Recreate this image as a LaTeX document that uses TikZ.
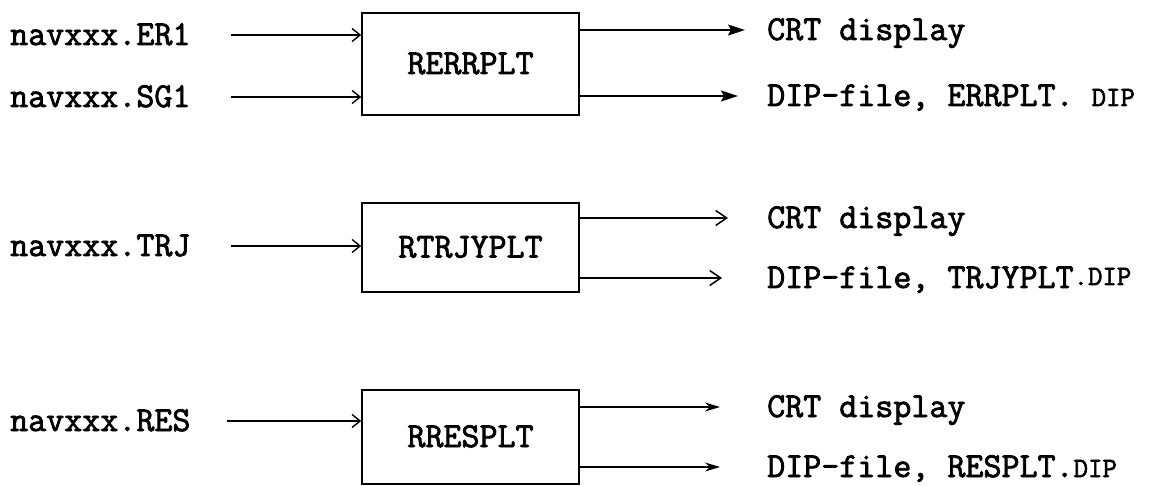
\documentclass[tikz,border=0pt]{standalone}
\usepackage{fontspec}
\setmonofont{Latin Modern Mono}[FakeBold=2.2]
\usetikzlibrary{arrows.meta}
\newcommand\smdip[1]{{\fontsize{28}{28}\selectfont #1}}
\begin{document}
\begin{tikzpicture}[x=1pt,y=-1pt,
  txt/.style={anchor=west,inner sep=0pt,font=\ttfamily\fontsize{35}{35}\selectfont,
    text height=20pt,text depth=0pt},
  prog/.style={draw,line width=1.6pt,inner sep=0pt,minimum width=217pt,
    font=\ttfamily\fontsize{35}{35}\selectfont,text height=20pt,text depth=0pt},
  wire/.style={line width=1.4pt},
  inarr/.style={wire,-{Straight Barb[length=8pt,width=13pt,line width=1.4pt]}},
  solidarr/.style={wire,-{Stealth[length=17pt,width=11pt,inset=3pt]}},
  openarr/.style={wire,-{Straight Barb[length=11pt,width=15pt,line width=1.5pt]}},
  thinarr/.style={wire,-{Stealth[length=15pt,width=9pt,inset=5pt]}}
]
\useasboundingbox (0,0) rectangle (1154,486);

% --- RERRPLT ---
\node[txt] (er1) at (10,35) {navxxx.ER1};
\node[txt] (sg1) at (10,97) {navxxx.SG1};
\node[prog,minimum height=102pt] (b1) at (470.5,64) {RERRPLT};
\node[txt] (crt1) at (767,30) {CRT display};
\node[txt] (dip1) at (767,96) {DIP-file, ERRPLT. \smdip{DIP}};
\draw[inarr] ([xshift=40pt]er1.east) -- (b1.west |- er1.east);
\draw[inarr] ([xshift=40pt]sg1.east) -- (b1.west |- sg1.east);
\draw[solidarr] (b1.east |- crt1.west) -- ([xshift=-22pt]crt1.west);
\draw[solidarr] (b1.east |- dip1.west) -- ([xshift=-29pt]dip1.west);

% --- RTRJYPLT ---
\node[txt] (trj) at (10,246) {navxxx.TRJ};
\node[prog,minimum height=89pt] (b2) at (470.5,247.5) {RTRJYPLT};
\node[txt] (crt2) at (767,218) {CRT display};
\node[txt] (dip2) at (767,278) {DIP-file, TRJYPLT\raisebox{3pt}{\smdip{.DIP}}};
\draw[inarr] ([xshift=40pt]trj.east) -- (b2.west |- trj.east);
\draw[openarr] (b2.east |- crt2.west) -- ([xshift=-39pt]crt2.west);
\draw[openarr] (b2.east |- dip2.west) -- ([xshift=-45pt]dip2.west);

% --- RRESPLT ---
\node[txt] (res) at (10,421) {navxxx.RES};
\node[prog,minimum height=94pt] (b3) at (470.5,437) {RRESPLT};
\node[txt] (crt3) at (767,407) {CRT display};
\node[txt] (dip3) at (767,467) {DIP-file, RESPLT.\smdip{DIP}};
\draw[inarr] ([xshift=36pt]res.east) -- (b3.west |- res.east);
\draw[thinarr] (b3.east |- crt3.west) -- ([xshift=-47pt]crt3.west);
\draw[thinarr] (b3.east |- dip3.west) -- ([xshift=-47pt]dip3.west);
\end{tikzpicture}
\end{document}
